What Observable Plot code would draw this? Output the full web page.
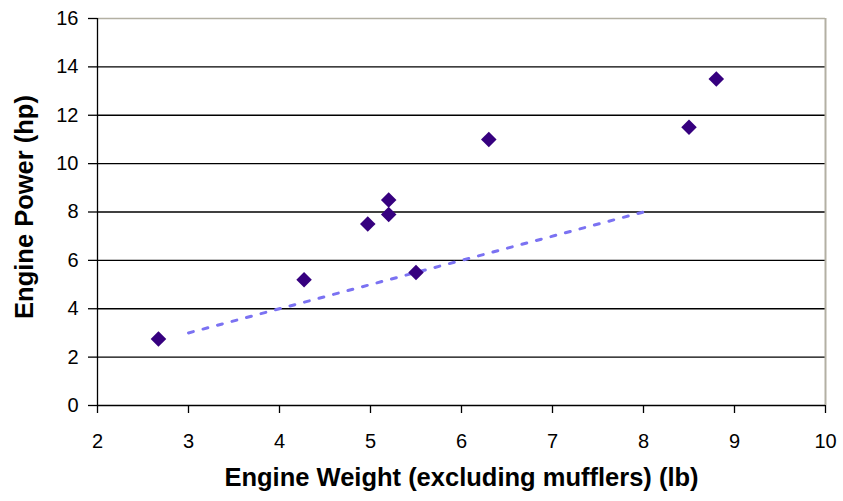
<!DOCTYPE html>
<html>
<head>
<meta charset="utf-8">
<script src="https://cdn.jsdelivr.net/npm/d3@7"></script>
<script src="https://cdn.jsdelivr.net/npm/@observablehq/plot@0.6"></script>
<style>
  html, body { margin: 0; padding: 0; background: #fff; }
  #chart svg { display: block; }
</style>
</head>
<body>
<div id="chart"></div>
<script>
// Data
const weights = [2.67, 4.27, 4.97, 5.2, 5.2, 5.5, 6.3, 8.5, 8.8];
const powers  = [2.75, 5.2, 7.5, 8.5, 7.9, 5.5, 11.0, 11.5, 13.5];
const trendX = [3, 8];
const trendY = [3.0, 8.0];
const xTicks = [2, 3, 4, 5, 6, 7, 8, 9, 10];
const yTicks = [0, 2, 4, 6, 8, 10, 12, 14, 16];
const xTitle = "Engine Weight (excluding mufflers) (lb)";
const yTitle = "Engine Power (hp)";

const points = weights.map((w, i) => ({w, p: powers[i]}));
const trend = trendX.map((x, i) => ({x, y: trendY[i]}));

const chart = Plot.plot({
  width: 843,
  height: 501,
  marginLeft: 97,
  marginRight: 18,
  marginTop: 18,
  marginBottom: 96,
  style: {fontFamily: "'Liberation Sans', Arial, sans-serif", color: "black", background: "white"},
  x: {domain: [2, 10]},
  y: {domain: [0, 16]},
  marks: [
    Plot.ruleY(yTicks.filter(d => d > 0 && d < 16), {stroke: "black", strokeWidth: 1.3}),
    Plot.ruleY([16], {stroke: "#b3b0a3", strokeWidth: 1.3}),
    Plot.ruleX([10], {stroke: "#b3b0a3", strokeWidth: 2}),
    Plot.ruleX([2], {stroke: "black", strokeWidth: 1.3}),
    Plot.ruleY([0], {stroke: "black", strokeWidth: 1.3}),
    Plot.axisX({ticks: xTicks, tickSize: 8, tickPadding: 20, fontSize: 20, label: null, strokeWidth: 1.3}),
    Plot.axisY({ticks: yTicks, tickSize: 9, tickPadding: 10, fontSize: 20, label: null, strokeWidth: 1.3}),
    Plot.line(trend, {x: "x", y: "y", stroke: "#7b72f2", strokeWidth: 3, strokeDasharray: "5,10"}),
    Plot.dot(points, {x: "w", y: "p", symbol: "diamond2", r: 7, fill: "#36007f", stroke: "none"}),
    Plot.text([xTitle], {frameAnchor: "bottom", dy: 80, fontSize: 25.5, fontWeight: "bold", fill: "black"}),
    Plot.text([yTitle], {frameAnchor: "left", textAnchor: "middle", dx: -73, dy: -5, rotate: -90, fontSize: 25.5, fontWeight: "bold", fill: "black"})
  ]
});
document.getElementById("chart").appendChild(chart);
</script>
</body>
</html>
